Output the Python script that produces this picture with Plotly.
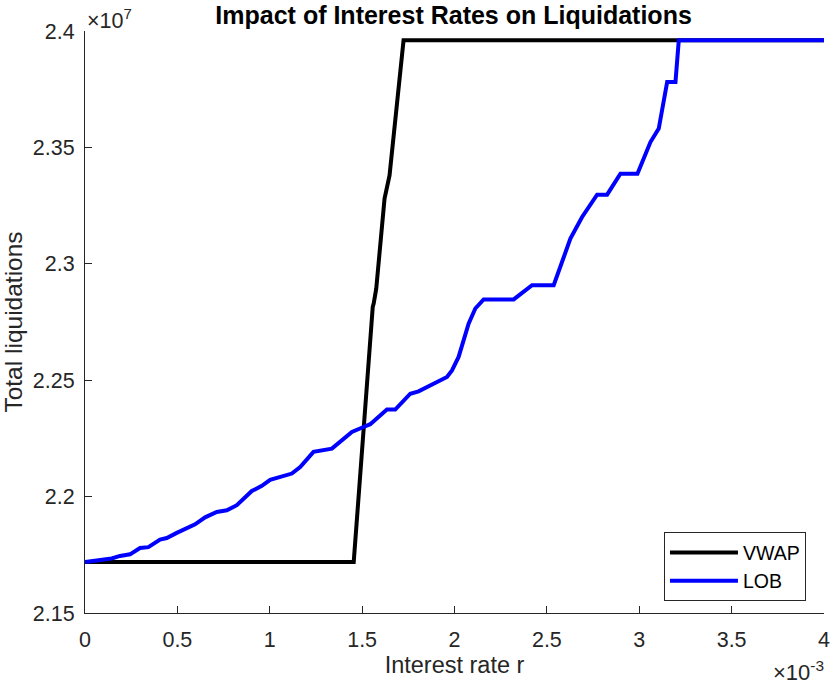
import plotly.graph_objects as go

# interest rate r in units of 1e-3, total liquidations in units of 1e7
vwap_rate = [0, 1.4545, 1.5574, 1.5628, 1.5764, 1.6214, 1.6484, 1.6972, 1.7010, 1.7243, 4.0]
vwap_liq = [2.1719, 2.1719, 2.2814, 2.2830, 2.2893, 2.3280, 2.3380, 2.3781, 2.3793, 2.3960, 2.3960]

lob_rate = [0, 0.0813, 0.1446, 0.1896, 0.2438, 0.2979, 0.3429, 0.4063, 0.4426, 0.4967,
            0.5959, 0.6501, 0.7134, 0.7676, 0.8218, 0.9030, 0.9572, 1.0022, 1.0563, 1.1197,
            1.1647, 1.2367, 1.3364, 1.4447, 1.5076, 1.5439, 1.6343, 1.6793, 1.7606, 1.8055,
            1.9594, 1.9864, 2.0222, 2.0764, 2.1127, 2.1577, 2.3202, 2.4198, 2.5369, 2.6273,
            2.6907, 2.7178, 2.7719, 2.8261, 2.8982, 2.9902, 3.0336, 3.0607, 3.1056, 3.1511,
            3.1961, 3.2140, 4.0]
lob_liq = [2.1719, 2.1726, 2.1734, 2.1745, 2.1752, 2.1779, 2.1783, 2.1815, 2.1822, 2.1844,
           2.1881, 2.1911, 2.1934, 2.1941, 2.1963, 2.2024, 2.2046, 2.2072, 2.2084, 2.2099,
           2.2127, 2.2192, 2.2206, 2.2278, 2.2299, 2.2311, 2.2374, 2.2374, 2.2442, 2.2452,
           2.2514, 2.2542, 2.2600, 2.2743, 2.2808, 2.2847, 2.2847, 2.2908, 2.2908, 2.3108,
           2.3201, 2.3233, 2.3297, 2.3297, 2.3387, 2.3387, 2.3466, 2.3523, 2.3581, 2.3781,
           2.3781, 2.3960, 2.3960]

x_ticks = [0, 0.5, 1, 1.5, 2, 2.5, 3, 3.5, 4]
y_ticks = [2.15, 2.2, 2.25, 2.3, 2.35, 2.4]

AX = "#262626"
FONT = "Liberation Sans, Arial, sans-serif"

fig = go.Figure()
fig.add_trace(go.Scatter(x=vwap_rate, y=vwap_liq, mode="lines", name="VWAP",
                         line=dict(color="black", width=4)))
fig.add_trace(go.Scatter(x=lob_rate, y=lob_liq, mode="lines", name="LOB",
                         line=dict(color="#0000ff", width=4)))

axis_common = dict(showgrid=False, zeroline=False, showline=True, linecolor=AX, linewidth=1,
                   ticks="inside", ticklen=7, tickcolor=AX, tickwidth=1, mirror=False,
                   automargin=False, ticklabeloverflow="allow",
                   tickfont=dict(family=FONT, size=21.5, color=AX))

fig.update_layout(
    width=830, height=685,
    margin=dict(l=85, r=6, t=31, b=72),
    plot_bgcolor="white", paper_bgcolor="white",
    font=dict(family=FONT, color=AX),
    title=dict(text="<b>Impact of Interest Rates on Liquidations</b>", x=0.5465, xanchor="center",
               y=1 - 15 / 685, yanchor="middle", automargin=False,
               font=dict(family=FONT, size=25, color="black")),
    xaxis=dict(range=[0, 4], tickvals=x_ticks, ticklabelstandoff=7,
               title=dict(text="Interest rate r", font=dict(family=FONT, size=23.5, color=AX), standoff=3),
               **axis_common),
    yaxis=dict(range=[2.15, 2.4], tickvals=y_ticks, ticklabelstandoff=5,
               title=dict(text="Total liquidations", font=dict(family=FONT, size=24.5, color=AX), standoff=10),
               **axis_common),
    legend=dict(x=0.9756, y=0.0201, xanchor="right", yanchor="bottom", itemwidth=68,
                bordercolor=AX, borderwidth=1, bgcolor="white",
                font=dict(family=FONT, size=19.5, color="black")),
    showlegend=True,
)

fig.add_annotation(text="\u00d710<sup>7</sup>", xref="paper", yref="paper", x=0.0, y=1.0,
                   xanchor="left", yanchor="bottom", yshift=-4, showarrow=False,
                   font=dict(family=FONT, size=21.5, color=AX))
fig.add_annotation(text="\u00d710<sup>-3</sup>", xref="paper", yref="paper", x=1.0, y=0,
                   xanchor="right", yanchor="middle", yshift=-58, xshift=2, showarrow=False,
                   font=dict(family=FONT, size=22, color=AX))

# page body has a default 8px margin; drop it so the figure fills the window
fig.write_html("out.html", config={"displayModeBar": False},
               post_script="document.body.style.margin='0';")
